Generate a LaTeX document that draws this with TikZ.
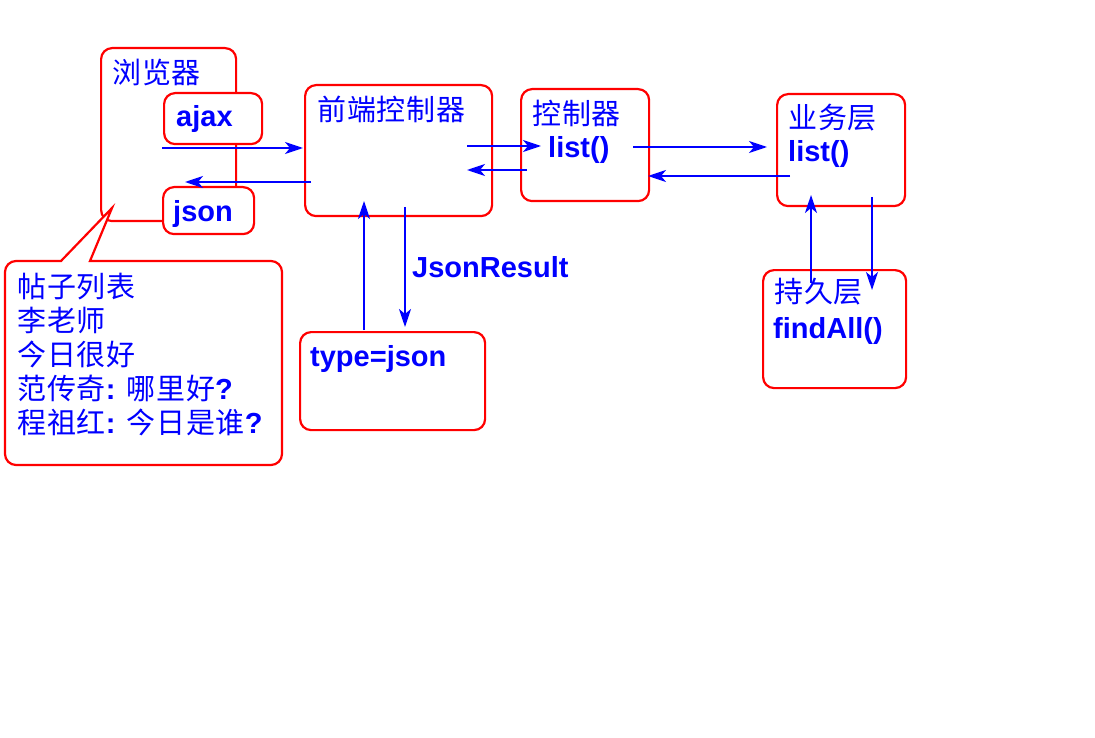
\documentclass[tikz,border=0pt]{standalone}
\usepackage{fontspec}
\setmainfont{Liberation Sans}
\newfontfamily\cjk{Noto Sans CJK SC}[LetterSpace=3]
\usetikzlibrary{arrows.meta}
\definecolor{bred}{RGB}{255,0,0}
\definecolor{bblue}{RGB}{0,0,255}
\begin{document}
\begin{tikzpicture}[x=1pt,y=-1pt,
  box/.style={draw=bred, line width=2.2pt, rounded corners=11pt, fill=white, inner sep=0pt, anchor=north west},
  cjkt/.style={font=\cjk\fontsize{29}{34}\selectfont, text=bblue, inner sep=0pt, anchor=west},
  latt/.style={font=\bfseries\fontsize{29}{34}\selectfont, text=bblue, inner sep=0pt, anchor=base west},
  arr/.style={draw=bblue, line width=1.8pt, -{Stealth[length=18pt,width=12pt,inset=5pt]}}]
\useasboundingbox (0,0) rectangle (1095,738);
\fill[white] (0,0) rectangle (1095,738);
% browser
\node[box, minimum width=135pt, minimum height=173pt] (browser) at (100,47) {};
\node[cjkt] (browsert) at (112,72) {浏览器};
\node[box, minimum width=98pt, minimum height=51pt] (ajax) at (163,92) {};
\node[latt] (ajaxt) at (176,127) {ajax};
\node[box, minimum width=91pt, minimum height=47pt] (json) at (162,186) {};
\node[latt] (jsont) at (173,222) {json};
% callout
\path[draw=bred, line width=2.2pt, fill=white] (90,261) [rounded corners=11pt] -- (282,261) -- (282,465) -- (5,465) -- (5,261) [sharp corners] -- (61,261) -- (112,208) -- cycle;
\node[cjkt, align=left] (posts) at (17,355) {帖子列表\\李老师\\今日很好\\范传奇{\normalfont\bfseries: }哪里好{\normalfont\bfseries?}\\程祖红{\normalfont\bfseries: }今日是谁{\normalfont\bfseries?}};
% front controller
\node[box, minimum width=187pt, minimum height=131pt] (front) at (304,84) {};
\node[cjkt] (frontt) at (317,109) {前端控制器};
% controller
\node[box, minimum width=128pt, minimum height=112pt] (ctrl) at (520,88) {};
\node[cjkt] (ctrlt) at (532,113) {控制器};
\node[latt] (ctrll) at (548,158) {list()};
% business
\node[box, minimum width=128pt, minimum height=112pt] (biz) at (776,93) {};
\node[cjkt] (bizt) at (788,118) {业务层};
\node[latt] (bizl) at (788,162) {list()};
% persistence
\node[box, minimum width=143pt, minimum height=118pt] (dao) at (762,269) {};
\node[cjkt] (daot) at (774,292) {持久层};
\node[latt] (daol) at (773,338) {findAll()};
% type=json
\node[box, minimum width=185pt, minimum height=98pt] (tj) at (299,331) {};
\node[latt] (tjt) at (310,366) {type=json};
\node[latt] (jr) at (412,277) {JsonResult};
% arrow end points
\coordinate (a1s) at (162,148); \coordinate (a1e) at (303,148);
\coordinate (a2s) at (311,182); \coordinate (a2e) at (185,182);
\coordinate (a3s) at (467,146); \coordinate (a3e) at (541,146);
\coordinate (a4s) at (527,170); \coordinate (a4e) at (467,170);
\coordinate (a5s) at (633,147); \coordinate (a5e) at (767,147);
\coordinate (a6s) at (790,176); \coordinate (a6e) at (648,176);
\coordinate (a7s) at (811,283); \coordinate (a7e) at (811,195);
\coordinate (a8s) at (872,197); \coordinate (a8e) at (872,290);
\coordinate (a9s) at (364,330); \coordinate (a9e) at (364,201);
\coordinate (a10s) at (405,207); \coordinate (a10e) at (405,327);
\draw[arr] (a1s) -- (a1e);
\draw[arr] (a2s) -- (a2e);
\draw[arr] (a3s) -- (a3e);
\draw[arr] (a4s) -- (a4e);
\draw[arr] (a5s) -- (a5e);
\draw[arr] (a6s) -- (a6e);
\draw[arr] (a7s) -- (a7e);
\draw[arr] (a8s) -- (a8e);
\draw[arr] (a9s) -- (a9e);
\draw[arr] (a10s) -- (a10e);
\end{tikzpicture}
\end{document}
